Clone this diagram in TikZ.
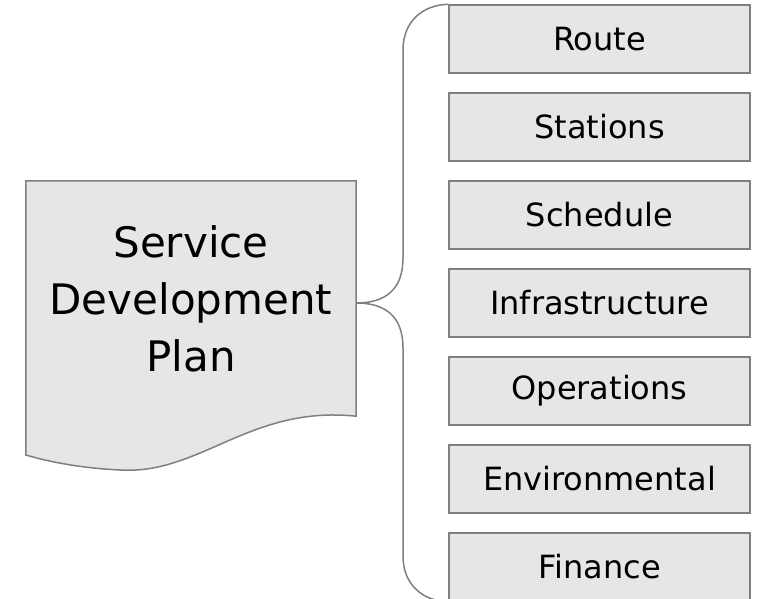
\documentclass[tikz,border=0pt]{standalone}
\usepackage{fontspec}
\setmainfont{DejaVu Sans}
\usepackage{tikz}
\usetikzlibrary{positioning,backgrounds}
\usepackage{xcolor}
\definecolor{boxgray}{HTML}{E6E6E6}
\definecolor{linegray}{HTML}{7F7F7F}

\begin{document}
\begin{tikzpicture}[x=1pt,y=-1pt,node distance=18.5pt]
    \tikzstyle{part}=[rectangle,draw=linegray,fill=boxgray,line width=1.5pt,minimum width=301pt,minimum height=68pt,font=\fontsize{32}{38}\selectfont]
    \tikzstyle{doc}=[draw=linegray,fill=boxgray,line width=1.5pt]
    \tikzstyle{brace}=[draw=linegray,line width=1.5pt]
    \useasboundingbox (0,0) rectangle (758,599);

    % the plan, a sheet with a wavy bottom edge
    \node[minimum width=330pt,minimum height=235pt,align=center,font=\fontsize{42}{57}\selectfont](plan) at (191,298.5){Service\\Development\\Plan};
    \begin{scope}[on background layer]
      \path[doc] (plan.north west) -- (plan.north east) -- (plan.south east)
        .. controls (250,405) and (200,475) .. (120,470)
        .. controls (80,468) and (50,462) .. (plan.south west |- 0,455) -- cycle;
    \end{scope}
    \coordinate (tip) at ([yshift=-4.5pt]plan.east);

    % parts of the plan
    \begin{scope}
      \node[part](route) at (599.5,39){Route};
      \node[part,below=of route](stations){Stations};
      \node[part,below=of stations](schedule){Schedule};
      \node[part,below=of schedule](infra){Infrastructure};
      \node[part,below=of infra](ops){Operations};
      \node[part,below=of ops](env){Environmental};
      \node[part,below=of env](finance){Finance};
    \end{scope}

    % curly brace from the plan to the parts
    \draw[brace] (route.north west) .. controls (422,5) and (403,22) .. (403,50) -- (403,258)
      .. controls (403,290) and (385,303) .. (tip)
      .. controls (385,303) and (403,316) .. (403,348) -- (403,556)
      .. controls (403,584) and (422,601) .. (finance.south west);
\end{tikzpicture}
\end{document}
